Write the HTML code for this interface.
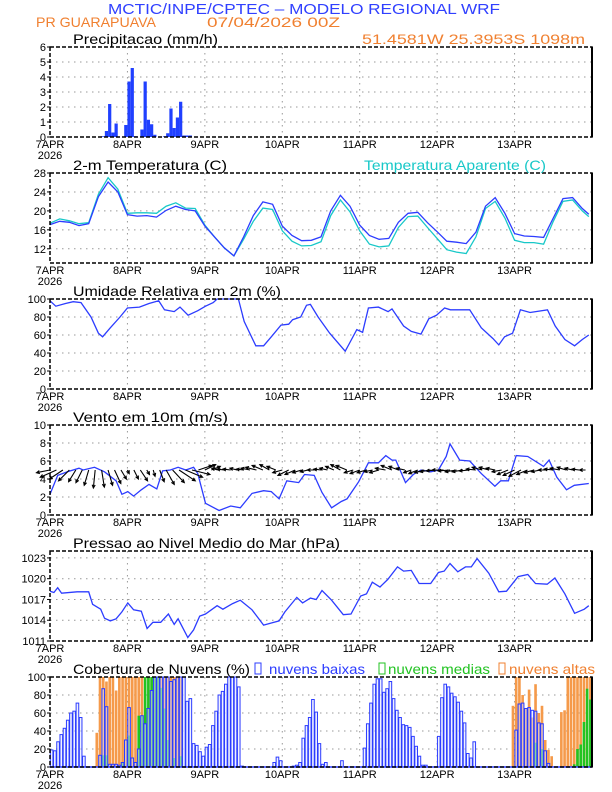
<!DOCTYPE html>
<html><head><meta charset="utf-8"><style>
body{margin:0;background:#fff;width:612px;height:792px;overflow:hidden}
svg{display:block;font-family:"Liberation Sans",sans-serif}
</style></head><body>
<svg id="chart" width="612" height="792" viewBox="0 0 612 792" xmlns="http://www.w3.org/2000/svg">
<text x="108" y="14" font-size="15" fill="#3040ff" textLength="392" lengthAdjust="spacingAndGlyphs">MCTIC/INPE/CPTEC – MODELO REGIONAL WRF</text>
<text x="36" y="27" font-size="14" fill="#f08030" textLength="120" lengthAdjust="spacingAndGlyphs">PR GUARAPUAVA</text>
<text x="207" y="27" font-size="14" fill="#f08030" textLength="133" lengthAdjust="spacingAndGlyphs">07/04/2026 00Z</text>
<text x="362" y="44" font-size="14" fill="#f08030" textLength="223" lengthAdjust="spacingAndGlyphs">51.4581W 25.3953S 1098m</text>
<g id="layer"></g>
</svg>
<script>
// ---------- data ----------
const dayLabels=["7APR","8APR","9APR","10APR","11APR","12APR","13APR"];
const precipHours=[16,17,18,19,20,23,24,25,26,28,29,30,31,32,35,36,37,38,39,40,41,42,43];
const precipValues=[0.05,0.4,2.2,0.3,0.9,0.8,3.7,4.6,0.05,0.5,3.7,1.15,0.85,0.15,0.05,0.25,1.9,0.6,1.3,2.35,0.1,0.1,0.1];
const tempHours=[0,3,6,9,12,15,18,21,24,27,30,33,36,39,42,45,48,51,54,57,60,63,66,69,72,75,78,81,84,87,90,93,96,99,102,105,108,111,114,117,120,123,126,129,132,135,138,141,144,147,150,153,156,159,162,165,167];
const tempValues=[17.1,17.8,17.6,16.9,17.3,23.0,26.1,24.0,19.2,18.9,19.0,18.7,20.1,21.0,20.3,20.0,16.8,14.5,12.2,10.5,14.5,19.0,21.9,21.4,16.8,14.8,13.7,13.8,14.5,20.0,23.3,21.0,17.0,14.8,14.0,14.2,17.6,19.5,19.7,17.5,15.6,13.6,13.4,13.1,15.5,21.0,22.8,19.5,15.2,14.7,14.6,14.4,18.5,22.6,22.8,20.5,19.3];
const apparentValues=[17.4,18.3,17.9,17.3,17.5,23.5,27.0,24.6,19.5,19.6,19.6,19.5,21.0,21.7,20.6,20.5,17.0,14.5,12.2,10.5,14.0,17.8,20.6,20.3,15.8,13.6,12.6,12.7,13.5,19.0,22.3,19.8,15.8,13.0,12.4,12.6,16.5,18.8,18.9,16.5,14.2,11.8,11.3,11.0,14.5,20.5,22.0,18.5,13.8,13.3,13.3,13.0,17.8,22.0,22.3,20.0,18.8];
const rhHours=[0,1.8,4.8,7.2,9.6,12.7,15,16.3,18.7,21.7,24,27.7,30.7,33.7,35.5,38.5,40.3,42.8,45.8,48.2,50.6,51.8,58.4,60.2,63.8,66.2,68.6,71.6,74,75.2,77.7,79.5,80.7,83.1,86.7,91.5,92.7,95.1,96.9,98.7,101.8,104.8,106,109.6,112,115,117.4,119.8,122.3,124.1,130.1,133.7,137.3,139.1,140.9,143.4,145.8,148.8,154.2,156.6,159.6,162.6,165,167];
const rhValues=[98,92,95,97,96,80,62,58,68,80,90,91,95,98,88,86,91,82,87,92,96,100,100,75,48,48,58,71,72,77,80,93,94,80,62,42,50,66,63,90,91,86,89,70,64,61,78,82,90,88,88,68,56,49,58,62,88,85,88,70,55,48,55,60];
const windHours=[0,2.4,5.4,9,10.3,13.8,16.9,20.5,22.3,24.1,25.9,28.3,30.7,33.1,34.9,37.3,39.7,42.1,44.5,45.8,48.2,52.4,56,59,62.6,66.2,68.6,71,73.4,77.1,78.9,81.9,84.3,87.3,90.3,92.1,95.7,98.7,101.8,104.1,106,107.2,110.2,112.6,115,118,120.4,122.8,124,127,130.1,133.7,137.9,139.7,142.1,144.5,148.1,153,154.7,157.1,160.1,162.5,167];
const windSpeed=[2.3,4.4,4.8,5.2,5.0,5.3,4.8,3.8,2.3,2.6,2.1,2.8,3.4,2.9,4.9,5.0,5.3,5.0,5.3,4.6,1.3,0.5,1.0,0.8,2.4,2.7,2.6,1.8,3.8,3.6,4.5,4.4,2.5,0.8,1.5,1.8,3.7,5.8,5.8,6.6,6.1,6.1,3.6,4.5,5.0,4.8,5.0,6.5,7.9,6.1,6.0,4.6,3.2,3.8,3.8,6.6,6.5,5.4,6.1,4.2,2.8,3.3,3.5];
const arrowHours=[0,2,4,6,8,10,12,14,16,18,20,22,24,26,28,30,32,34,36,38,40,42,44,46,48,50,52,54,56,58,60,62,64,66,68,70,72,74,76,78,80,82,84,86,88,90,92,94,96,98,100,102,104,106,108,110,112,114,116,118,120,122,124,126,128,130,132,134,136,138,140,142,144,146,148,150,152,154,156,158,160,162,164,166];
const windU=[-1.5,-1.8,-1.5,-1.2,-0.8,-0.7,-0.5,-0.2,0.3,0.5,0.7,0.6,0.2,0.5,0.8,0.3,0.2,0.5,0.9,1.3,1.8,1.9,2.0,1.5,1.8,1.5,-1.0,-1.2,-1.3,-1.2,-1.2,-1.5,-1.8,-1.8,-1.6,-1.5,-1.6,-1.8,-1.7,-1.5,-1.3,-1.2,-1.2,-1.3,-1.4,-1.6,-1.8,-1.5,-1.6,-1.5,-1.4,-1.6,-1.7,-1.8,-1.6,-1.4,-1.3,-1.5,-1.6,-1.8,-1.8,-1.9,-2.0,-1.9,-1.8,-1.7,-1.6,-1.7,-1.6,-1.5,-1.6,-1.8,-1.9,-2.0,-1.8,-1.6,-1.5,-1.4,-1.5,-1.6,-1.5,-1.3,-1.2,-1.0];
const windV=[-0.3,-0.8,-1.0,-1.2,-1.3,-1.4,-1.7,-2.0,-1.9,-1.7,-1.5,-1.0,-0.4,-1.0,-1.2,-0.5,-0.7,-1.3,-1.6,-1.4,-1.2,-0.8,-0.5,0.5,0.6,0.4,0.2,0.1,0.1,0.2,0.1,0.2,0.3,0.5,0.6,0.4,-0.3,-0.6,-0.5,-0.3,-0.2,0.0,0.1,0.2,0.4,0.6,0.5,-0.3,-0.4,-0.3,-0.2,-0.3,0.2,0.5,0.4,0.2,-0.3,-0.4,-0.3,-0.2,-0.1,0.0,-0.1,-0.2,-0.2,-0.1,0.1,0.3,0.3,0.2,-0.2,-0.5,-0.6,-0.7,-0.5,-0.3,-0.2,0.0,0.1,0.2,0.3,0.2,0.1,0.0];
const presHours=[0,1.2,2.4,3.6,8.4,12,13.2,15.7,16.9,18.7,20.5,22.3,24.1,25.9,28.3,30.1,31.9,34.3,36.7,38.5,39.7,42.7,44.5,46.4,48.2,51.8,53.6,56.6,59,62.6,66.2,68.6,71,72.8,76.5,78.3,80.7,82.5,84.3,87.3,90.9,93.3,96.3,98.1,99.9,102.3,104.7,107.7,109.6,112,114.4,118,120.4,122.2,124,126.4,128.8,130.6,132.4,136,139.1,141.5,145.1,148.1,150.5,154.1,156.5,159.6,162.6,165.6,167];
const presValues=[1018.2,1018.0,1018.7,1017.9,1018.1,1018.1,1016.3,1015.6,1014.3,1013.9,1014.2,1015.2,1016.5,1015.5,1015.3,1012.8,1013.7,1013.7,1014.9,1013.4,1014.2,1011.5,1012.6,1014.6,1014.9,1016.1,1015.6,1016.4,1016.9,1015.5,1013.3,1013.6,1013.9,1015.2,1017.3,1016.5,1017.2,1017.0,1018.3,1016.9,1014.8,1014.9,1017.5,1017.8,1019.5,1018.8,1019.9,1021.7,1021.1,1021.2,1019.3,1019.3,1020.9,1021.1,1022.2,1021.0,1021.7,1021.7,1022.9,1020.8,1018.1,1018.2,1020.3,1020.6,1019.3,1019.2,1020.1,1017.8,1015.0,1015.6,1016.1];
const lowHours=[0,1,2,3,4,5,6,7,8,9,10,15,16,17,18,19,20,21,22,23,24,25,26,27,28,29,30,31,32,33,34,35,36,37,38,39,40,41,42,43,44,45,46,47,48,49,50,51,52,53,54,55,56,57,58,59,69,70,71,75,76,77,78,79,80,81,82,83,84,85,90,97,98,99,100,101,102,103,104,105,106,107,108,109,110,111,112,113,114,115,116,120,121,122,123,124,125,126,127,128,129,130,131,144,145,146,147,148,149,150,151,152,153,154,155];
const lowValues=[19,18,28,36,43,52,60,62,71,55,12,13,87,67,3,3,3,2,5,30,66,10,5,20,57,48,65,85,100,100,100,100,100,95,97,100,100,100,73,76,26,24,17,12,22,25,46,62,80,84,92,100,100,100,89,1,5,11,7,1,2,5,32,46,55,75,61,26,3,5,7,21,48,71,92,98,98,83,87,95,76,63,55,47,46,44,34,23,12,2,2,34,77,92,89,82,78,72,62,49,15,10,28,41,70,71,65,66,63,62,49,48,18,4];
const highHours=[14,15,16,17,18,19,20,21,22,23,24,25,26,27,28,29,30,31,32,33,34,35,36,37,38,39,40,143,144,145,146,147,148,149,150,151,152,153,154,155,158,159,160,161,162,163,164,165,166,167];
const highValues=[38,100,100,95,100,100,85,100,100,100,100,100,100,100,100,100,100,100,100,100,100,100,100,100,100,100,100,68,100,100,80,65,86,55,92,60,68,30,19,12,61,63,100,100,100,100,100,100,100,100];
const midHours=[16,17,22,24,27,28,29,30,31,32,33,34,35,36,38,40,150,152,162,163,164,165,166,167];
const midValues=[13,13,5,35,57,57,100,100,100,100,100,88,65,30,10,12,27,20,3,20,25,50,87,75];

// ---------- layout ----------
const NS="http://www.w3.org/2000/svg";
const layer=document.getElementById('layer');
const X0=50,X1=592,HOURS=168;
const xs=h=>X0+(X1-X0)*h/HOURS;
function mk(tag,attrs,parent){const e=document.createElementNS(NS,tag);for(const k in attrs)e.setAttribute(k,attrs[k]);(parent||layer).appendChild(e);return e;}
function panel(name,top,min,max,ticks,title,titleLen){
  const g=mk('g',{});
  
  
  const bot=top+90;
  const ys=v=>bot-(v-min)/(max-min)*90;
  ticks.forEach(t=>{
    const y=ys(t);
    if(y>top+1&&y<bot-1){const l=mk('line',{x1:X0,x2:X1,y1:y,y2:y,stroke:'#999','stroke-dasharray':'1.5,4.5','stroke-width':1},g);}
    const tx=mk('text',{x:46,y:y+4,'font-size':11,'text-anchor':'end',fill:'#000'},g);tx.textContent=t;
    
    
    mk('line',{x1:X0-3,x2:X0,y1:y,y2:y,stroke:'#000'},g);
  });
  dayLabels.forEach((d,i)=>{
    const x=xs(i*24);
    if(i>0){const l=mk('line',{x1:x,x2:x,y1:top,y2:bot,stroke:'#999','stroke-dasharray':'1.5,4.5'},g);}
    const tx=mk('text',{x:x,y:bot+11,'font-size':11,'text-anchor':'middle',fill:'#000'},g);tx.textContent=d;
    
    
  });
  const yr=mk('text',{x:X0,y:bot+22,'font-size':11,'text-anchor':'middle'},g);yr.textContent='2026';
  
  
  const tt=mk('text',{x:73,y:top-3,'font-size':14,fill:'#000',textLength:titleLen,lengthAdjust:'spacingAndGlyphs'},g);tt.textContent=title;
  
  
  const plot=mk('g',{},g);
  
  
  const fr=()=>{const r=mk('rect',{x:X0,y:top,width:X1-X0,height:90,fill:'none',stroke:'#000','stroke-width':1.5,'stroke-dasharray':'4,2'},g);
    mk('line',{x1:X1,x2:X1,y1:top,y2:bot,stroke:'#000','stroke-width':2},g);};
  return {g:plot,ys,top,bot,frame:fr};
}
function line(p,hours,vals,color,name){
  const d=hours.map((h,i)=>(i?'L':'M')+xs(h).toFixed(1)+','+p.ys(vals[i]).toFixed(1)).join('');
  const e=mk('path',{d,fill:'none',stroke:color,'stroke-width':1.3},p.g);
  
  
}
const bw=(X1-X0)/HOURS;

// Precip
let p=panel('precipitation',47,0,6,[0,1,2,3,4,5,6],'Precipitacao (mm/h)',145);
precipHours.forEach((h,i)=>{const y=p.ys(precipValues[i]);
  const r=mk('rect',{x:xs(h),y:y,width:bw,height:p.bot-y,fill:'#2040ff'},p.g);
  
  });
p.frame();

// Temperature
p=panel('temperature',173,9,28,[12,16,20,24,28],'2-m Temperatura (C)',154);
line(p,tempHours,apparentValues,'#18c8c8','apparent-temperature-line');
line(p,tempHours,tempValues,'#2c3cff','temperature-line');
p.frame();
let lg=mk('text',{x:364,y:170,'font-size':14,fill:'#18c8c8',textLength:182,lengthAdjust:'spacingAndGlyphs'});lg.textContent='Temperatura Aparente (C)';



// RH
p=panel('humidity',299,0,100,[0,20,40,60,80,100],'Umidade Relativa em 2m (%)',208);
line(p,rhHours,rhValues,'#2c3cff','humidity-line');
p.frame();

// Wind
p=panel('wind',425,0,10,[0,2,4,6,8,10],'Vento em 10m (m/s)',155);
line(p,windHours,windSpeed,'#2c3cff','wind-speed-line');
arrowHours.forEach((h,i)=>{
  const x0=xs(h),y0=p.ys(5),k=9,ku=h>=48?6:9;
  const x1=x0+windU[i]*ku,y1=y0-windV[i]*k;
  const a=Math.atan2(y1-y0,x1-x0),L=3.5;
  const d=`M${x0},${y0}L${x1},${y1}M${x1-L*Math.cos(a-0.45)},${y1-L*Math.sin(a-0.45)}L${x1},${y1}L${x1-L*Math.cos(a+0.45)},${y1-L*Math.sin(a+0.45)}`;
  const e=mk('path',{d,stroke:'#000',fill:'none','stroke-width':1.1},p.g);
  
  
});
p.frame();

// Pressure
p=panel('pressure',551,1011,1024,[1011,1014,1017,1020,1023],'Pressao ao Nivel Medio do Mar (hPa)',267);
line(p,presHours,presValues,'#2c3cff','pressure-line');
p.frame();

// Clouds
p=panel('clouds',677,0,100,[0,20,40,60,80,100],'Cobertura de Nuvens (%)',177);
function bars(hours,vals,fill,stroke,name){hours.forEach((h,i)=>{const y=p.ys(vals[i]);
  const r=mk('rect',{x:xs(h)+0.3,y:y,width:bw-0.6,height:Math.max(0,p.bot-y),fill,stroke,'stroke-width':stroke==='none'?0:1},p.g);
  
  });}
bars(highHours,highValues,'#f59a4a','none','high-cloud-bar');
bars(midHours,midValues,'#22c322','none','mid-cloud-bar');
bars(lowHours,lowValues,'rgba(225,232,255,0.55)','#2c3cff','low-cloud-bar');
mk('line',{x1:X0,x2:X1,y1:p.bot,y2:p.bot,stroke:'#2c3cff','stroke-width':1.5},p.g);
p.frame();
const leg=[['nuvens baixas','#2c3cff',255,269,96,'low-cloud-legend'],['nuvens medias','#22c322',379,388,102,'mid-cloud-legend'],['nuvens altas','#f08030',499,509,86,'high-cloud-legend']];
leg.forEach(([t,c,bx,tx0,len,n])=>{
  const g=mk('g',{});
  
  
  mk('rect',{x:bx,y:663,width:6,height:11,fill:'none',stroke:c,'stroke-width':1},g);
  const tx=mk('text',{x:tx0,y:674,'font-size':14,fill:c,textLength:len,lengthAdjust:'spacingAndGlyphs'},g);tx.textContent=t;
});
</script>
</body></html>
